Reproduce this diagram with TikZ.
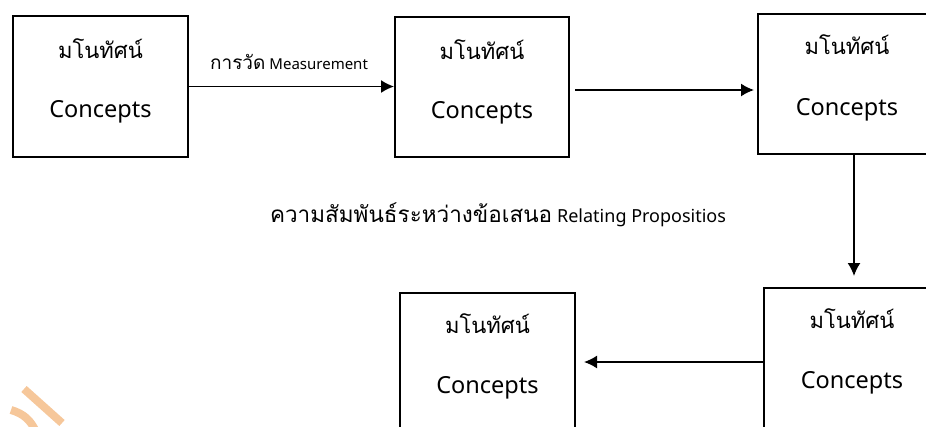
\documentclass[tikz,border=0pt]{standalone}
\usepackage{fontspec}
\setmainfont{Noto Sans}
\newfontfamily\thaifont[Script=Thai]{Loma}
\usepackage{xcolor}
\usetikzlibrary{arrows.meta,positioning,calc}
\definecolor{wmorange}{HTML}{F6C79A}
\tikzstyle{arrow} = [-{Latex[length=13pt,width=13pt]}, line width=1.6pt]
\tikzstyle{concept} = [rectangle, draw, line width=2pt, inner sep=0pt, minimum width=175pt, minimum height=141pt]
\tikzstyle{thai} = [font=\thaifont\fontsize{22}{22}\selectfont]
\tikzstyle{eng} = [font=\fontsize{23.5}{23.5}\selectfont]
\tikzstyle{wmark} = [line width=8pt, wmorange]

\begin{document}
\begin{tikzpicture}[x=1pt, y=-1pt]
    \useasboundingbox (0,0) rectangle (926,426);
    \clip (0,0) rectangle (926,426);

    % Concept boxes
    \node[concept] (c1) at (100.5,86.5) {};
    \node[concept, minimum width=174pt, minimum height=140pt] (c2) at (482,87) {};
    \node[concept, minimum width=178pt, minimum height=140pt] (c3) at (847,84) {};
    \node[concept, minimum width=176pt] (c4) at (852,358.5) {};
    \node[concept] (c5) at (487.5,363.5) {};

    % Box texts
    \node[thai] (t1) at ([yshift=-34pt]c1.north) {มโนทัศน์};
    \node[eng] (e1) at ([yshift=-97pt]c1.north) {Concepts};
    \node[thai] (t2) at ([yshift=-34pt]c2.north) {มโนทัศน์};
    \node[eng] (e2) at ([yshift=-97pt]c2.north) {Concepts};
    \node[thai] (t3) at ([yshift=-32pt]c3.north) {มโนทัศน์};
    \node[eng] (e3) at ([yshift=-97pt]c3.north) {Concepts};
    \node[thai] (t4) at ([yshift=-32pt]c4.north) {มโนทัศน์};
    \node[eng] (e4) at ([yshift=-96pt]c4.north) {Concepts};
    \node[thai] (t5) at ([yshift=-32pt]c5.north) {มโนทัศน์};
    \node[eng] (e5) at ([yshift=-96pt]c5.north) {Concepts};

    % Labels
    \node (meas) at (289,62) {{\thaifont\fontsize{19}{19}\selectfont การวัด}\hspace{4pt}{\fontsize{15}{15}\selectfont Measurement}};
    \node (rel) at (498,215) {{\thaifont\fontsize{22.5}{22.5}\selectfont ความสัมพันธ์ระหว่างข้อเสนอ}\hspace{5pt}{\fontsize{18}{18}\selectfont Relating Propositios}};

    % Connections
    \coordinate (a2) at ([xshift=5pt,yshift=-3pt]c2.east);
    \coordinate (b2) at ([xshift=-3pt]c3.west);
    \coordinate (a3) at ([xshift=7pt]c3.south);
    \coordinate (b3) at ([yshift=11pt]c4.north);
    \coordinate (a4) at ([yshift=-3.5pt]c4.west);
    \coordinate (b4) at ([xshift=8pt]c5.east);
    \draw[arrow] (c1.east) -- (c2.west |- c1.east);
    \draw[arrow] (a2) -- (b2 |- a2);
    \draw[arrow] (a3) -- (a3 |- b3);
    \draw[arrow] (a4) -- (b4 |- a4);

    % Watermark
    \draw[wmark] (24,389) -- (62,423);
    \draw[wmark] (11,410) to[bend left=25] (36,432);
\end{tikzpicture}
\end{document}
